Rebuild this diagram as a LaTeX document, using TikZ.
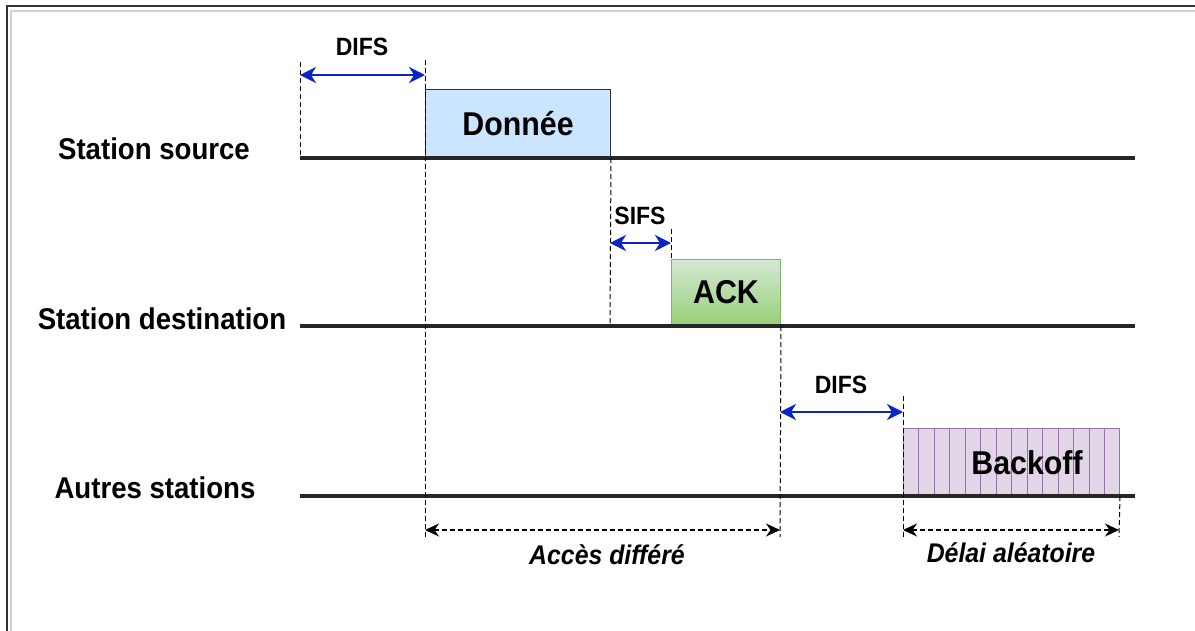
\documentclass[tikz,border=0pt]{standalone}
\usepackage{fontspec}
\setmainfont{Liberation Sans}
\usetikzlibrary{arrows.meta,calc}
\definecolor{difsblue}{HTML}{0A24C8}
\definecolor{datafill}{HTML}{CCE5FF}
\definecolor{ackhi}{HTML}{D5E8D4}
\definecolor{acklo}{HTML}{97D077}
\definecolor{ackline}{HTML}{82B366}
\definecolor{bofill}{HTML}{E1D5E7}
\definecolor{boline}{HTML}{9673A6}
% slightly narrowed lettering
\newcommand{\narrowtxt}[1]{\scalebox{0.92}[1]{#1}}
\begin{document}
\begin{tikzpicture}[x=1pt,y=-1pt,
  timeline/.style={line width=3.4pt, black!85},
  guide/.style={dash pattern=on 5pt off 3pt, line width=1pt},
  ifs/.style={{Stealth[length=16pt,width=16pt,inset=5pt]}-{Stealth[length=16pt,width=16pt,inset=5pt]}, difsblue, line width=2.4pt},
  delay/.style={{Stealth[length=14pt,width=13pt,inset=4.5pt]}-{Stealth[length=14pt,width=13pt,inset=4.5pt]}, dash pattern=on 5pt off 3pt, line width=1.2pt},
  station/.style={font=\fontsize{30}{34}\selectfont\bfseries, inner sep=0pt},
  frame/.style={inner sep=0pt, anchor=south west, line width=1pt},
  boxtxt/.style={font=\fontsize{33}{36}\selectfont\bfseries, inner sep=0pt},
  tag/.style={font=\fontsize{25}{28}\selectfont\bfseries, inner sep=0pt},
  note/.style={font=\fontsize{27}{30}\selectfont\bfseries\itshape, inner sep=0pt}]
\useasboundingbox (0,0) rectangle (1195,630);
\fill[white] (0,0) rectangle (1195,630);

% page border
\draw[line width=2.4pt, black!80] (7,640) -- (7,6) -- (1200,6);
\draw[line width=1.8pt, black!18] (10.8,640) -- (10.8,10.8) -- (1200,10.8);

% station labels
\node[station] (lsrc) at (154,149) {\narrowtxt{Station source}};
\node[station] (ldst) at (162,319) {\narrowtxt{Station destination}};
\node[station] (loth) at (155,488) {\narrowtxt{Autres stations}};

% time axes
\coordinate (srcA) at (300,158);  \coordinate (srcB) at (1135,158);
\coordinate (dstA) at (300,326);  \coordinate (dstB) at (1135,326);
\coordinate (othA) at (300,496);  \coordinate (othB) at (1135,496);

% frames on the medium
\node[frame, draw=black!80, fill=datafill, minimum width=185pt, minimum height=68pt, boxtxt] (data) at (425,158) {\narrowtxt{Donn\'ee}};
\node[frame, draw=ackline, top color=ackhi, bottom color=acklo, minimum width=109pt, minimum height=66pt, boxtxt] (ack) at (671,326) {\narrowtxt{ACK}};
\node[frame, draw=boline, fill=bofill, minimum width=216pt, minimum height=67pt] (bo) at (903,496) {};
\foreach \i in {1,...,13}
  \draw[boline, line width=1pt] ($(bo.north west)!\i/14!(bo.north east)$) -- ($(bo.south west)!\i/14!(bo.south east)$);
\node[boxtxt] (botxt) at (1027,463) {\narrowtxt{Backoff}};

\draw[timeline] (srcA) -- (srcB);
\draw[timeline] (dstA) -- (dstB);
\draw[timeline] (othA) -- (othB);

% guide marks
\coordinate (g1t) at (300,62);
\coordinate (g2t) at (425,60);   \coordinate (g2b) at (425,537);
\coordinate (g3b) at (610,326);
\coordinate (g4t) at (671,229);
\coordinate (g5b) at (780,537);
\coordinate (g6t) at (903,396);  \coordinate (g6b) at (903,537);
\coordinate (g7b) at (1119,537);
\draw[guide] (g1t) -- (srcA);
\draw[guide] (g2t) -- (g2b);
\draw[guide] (data.south east) -- (g3b);
\draw[guide] (g4t) -- (ack.north west);
\draw[guide] (ack.south east) -- (g5b);
\draw[guide] (g6t) -- (g6b);
\draw[guide] (bo.south east) -- (g7b);

% interframe spaces
\coordinate (d1a) at (300,75);  \coordinate (d1b) at (425,75);
\coordinate (s1a) at (610,243); \coordinate (s1b) at (671,243);
\coordinate (d2a) at (780,412); \coordinate (d2b) at (903,412);
\draw[ifs] (d1a) -- (d1b);
\draw[ifs] (s1a) -- (s1b);
\draw[ifs] (d2a) -- (d2b);
\node[tag] (tdifs1) at (362,47) {\narrowtxt{DIFS}};
\node[tag] (tsifs) at (640,216) {\narrowtxt{SIFS}};
\node[tag] (tdifs2) at (841,385) {\narrowtxt{DIFS}};

% waiting periods
\coordinate (w1a) at (425,530); \coordinate (w1b) at (780,530);
\coordinate (w2a) at (903,530); \coordinate (w2b) at (1119,530);
\draw[delay] (w1a) -- (w1b);
\draw[delay] (w2a) -- (w2b);
\node[note] (tacc) at (607,555) {\narrowtxt{Acc\`es diff\'er\'e}};
\node[note] (tdel) at (1011,553) {\narrowtxt{D\'elai al\'eatoire}};
\end{tikzpicture}
\end{document}
